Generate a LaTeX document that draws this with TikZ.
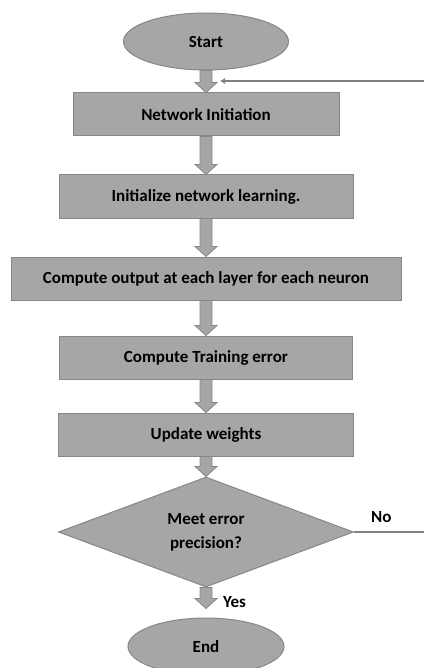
\documentclass[tikz,border=0pt]{standalone}
\usepackage{fontspec}
\setmainfont{Carlito}
\usepackage{tikz}
\usetikzlibrary{arrows.meta, positioning, shapes.geometric, calc}
\definecolor{BoxFill}{HTML}{A6A6A6}
\definecolor{BoxEdge}{HTML}{878787}
\definecolor{LineGray}{HTML}{808080}

% block arrow from one node down to the next
\newcommand{\blockarrow}[3][0pt]{%
  \filldraw[fill=BoxFill, draw=BoxEdge, line width=0.8pt]
    let \p1=(#2.south), \p2=(#3.north) in
    (\x1-6pt,\y1) -- (\x1+6pt,\y1) -- (\x1+6pt,\y2+10pt+#1) -- (\x1+11pt,\y2+10pt+#1)
    -- (\x1,\y2+#1) -- (\x1-11pt,\y2+10pt+#1) -- (\x1-6pt,\y2+10pt+#1) -- cycle;}

\begin{document}
\begin{tikzpicture}[node distance=38pt, font=\fontsize{17}{24}\selectfont\bfseries,
    box/.style={draw=BoxEdge, fill=BoxFill, line width=1pt, minimum height=43pt, inner sep=0pt},
    terminal/.style={ellipse, draw=BoxEdge, fill=BoxFill, line width=1pt, minimum height=57pt, inner sep=0pt},
    decision/.style={diamond, aspect=2.68, draw=BoxEdge, fill=BoxFill, line width=1pt, minimum width=295pt, minimum height=110pt, inner sep=0pt, align=center},
    tag/.style={inner sep=0pt},
    feedback/.style={LineGray, line width=2pt}]
        \useasboundingbox (0,0) rectangle (424pt,-668pt);

        % Nodes
        \node[terminal, minimum width=165pt] (start) at (206pt,-41.5pt) {Start};
        \node[box, minimum width=266pt, below=22pt of start] (netinit) {Network Initiation};
        \node[box, minimum width=294pt, below=of netinit] (learn) {Initialize network learning.};
        \node[box, minimum width=390pt, below=of learn] (output) {Compute output at each layer for each neuron};
        \node[box, minimum width=293pt, below=35pt of output] (trainerr) {Compute Training error};
        \node[box, minimum width=295pt, below=33pt of trainerr] (update) {Update weights};
        \node[decision, below=20pt of update] (check) {Meet error\\precision?};
        \node[terminal, minimum width=156pt, below=30pt of check] (finish) {End};

        % Labels
        \node[tag, anchor=west] (yes) at ($(check.south)!0.5!(finish.north)+(17pt,0)$) {Yes};
        \node[tag, anchor=south west] (no) at ([xshift=17pt,yshift=9pt]check.east) {No};

        % Arrows
        \blockarrow{start}{netinit}
        \blockarrow{netinit}{learn}
        \blockarrow{learn}{output}
        \blockarrow{output}{trainerr}
        \blockarrow{trainerr}{update}
        \blockarrow{update}{check}
        \blockarrow[9pt]{check}{finish}

        % Loop back
        \coordinate (edgeR) at (424pt,0);
        \coordinate (noend) at (check.east -| edgeR);
        \coordinate (loopin) at (424pt,-81pt);
        \coordinate (looptip) at (220pt,-81pt);
        \draw[feedback] (check.east) -- (noend);
        \draw[feedback, -{Latex[length=5pt,width=6pt]}] (loopin) -- (looptip);
    \end{tikzpicture}
\end{document}
